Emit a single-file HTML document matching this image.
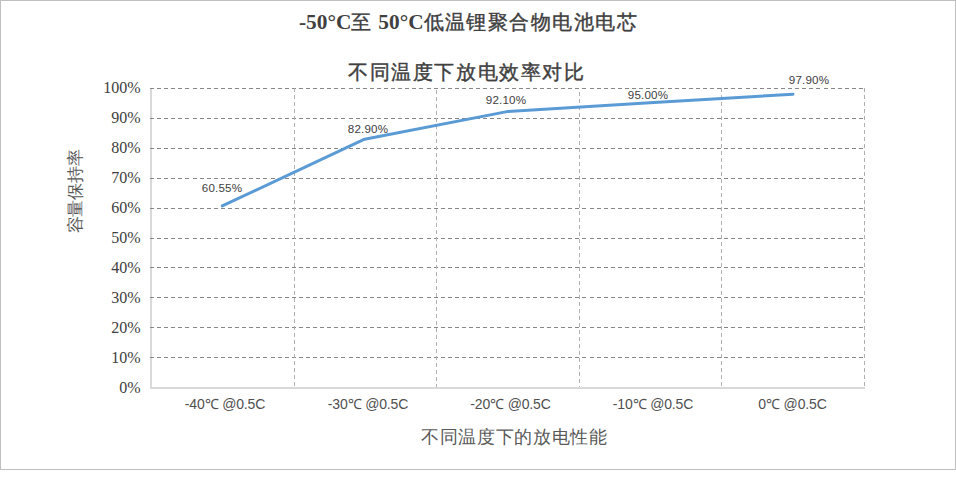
<!DOCTYPE html>
<html><head><meta charset="utf-8">
<style>
html,body{margin:0;padding:0;background:#fff;width:956px;height:479px;overflow:hidden}
.box{position:absolute;left:0;top:0;width:954px;height:468px;border:1px solid #bfbfbf;background:#fff}
.t{position:absolute;white-space:nowrap;line-height:1}
.title{font-family:"Liberation Serif",serif;font-weight:bold;font-size:21.33px;color:#404040}
.ylab{font-family:"Liberation Serif",serif;font-size:16px;color:#404040;text-align:right;width:60px}
.xlab{font-family:"Liberation Sans",sans-serif;font-size:14px;letter-spacing:-0.15px;color:#505050;text-align:center;width:140px}
.dlab{font-family:"Liberation Sans",sans-serif;font-size:11.6px;letter-spacing:0.2px;color:#404040;text-align:center;width:80px}
.axt{font-family:"Liberation Sans",sans-serif;color:#595959}
svg{position:absolute;left:0;top:0}
.cj{font-weight:normal;font-size:20px;letter-spacing:1.6px;-webkit-text-stroke:0.4px #404040}
</style></head><body>
<div class="box"></div>
<svg width="956" height="479" viewBox="0 0 956 479">
  <g fill="#d9d9d9">
    <rect x="150" y="88" width="2" height="301"/>
    <rect x="150" y="387" width="715" height="2"/>
  </g>
  <g stroke="#868686" stroke-width="1" stroke-dasharray="4 3.09" shape-rendering="crispEdges">
    <line x1="150" y1="88.5" x2="864" y2="88.5"/>
    <line x1="150" y1="118.5" x2="864" y2="118.5"/>
    <line x1="150" y1="148.5" x2="864" y2="148.5"/>
    <line x1="150" y1="178.5" x2="864" y2="178.5"/>
    <line x1="150" y1="208.5" x2="864" y2="208.5"/>
    <line x1="150" y1="238.5" x2="864" y2="238.5"/>
    <line x1="150" y1="267.5" x2="864" y2="267.5"/>
    <line x1="150" y1="297.5" x2="864" y2="297.5"/>
    <line x1="150" y1="327.5" x2="864" y2="327.5"/>
    <line x1="150" y1="357.5" x2="864" y2="357.5"/>
  </g>
  <g stroke="#b0b0b0" stroke-width="1" stroke-dasharray="4 3" shape-rendering="crispEdges">
    <line x1="294.5" y1="88" x2="294.5" y2="387"/>
    <line x1="436.5" y1="90" x2="436.5" y2="387"/>
    <line x1="579.5" y1="92" x2="579.5" y2="387"/>
    <line x1="721.5" y1="88" x2="721.5" y2="387"/>
    <line x1="864.5" y1="88" x2="864.5" y2="387"/>
  </g>
  <polyline fill="none" stroke="#5b9bd5" stroke-width="3" stroke-linejoin="round" stroke-linecap="round"
    points="222.3,205.9 364.6,139.2 507,111.6 649.8,102.8 793,94.2"/>
</svg>

<div class="t title" style="left:299px;top:12px">-50°C<span class="cj">至</span> 50°C<span class="cj" style="letter-spacing:1.45px">低温锂聚合物电池电芯</span></div>
<div class="t title cj" style="left:348px;top:62px">不同温度下放电效率对比</div>

<div class="t ylab" style="left:80.5px;top:80px">100%</div>
<div class="t ylab" style="left:80.5px;top:110px">90%</div>
<div class="t ylab" style="left:80.5px;top:140px">80%</div>
<div class="t ylab" style="left:80.5px;top:170px">70%</div>
<div class="t ylab" style="left:80.5px;top:200px">60%</div>
<div class="t ylab" style="left:80.5px;top:230px">50%</div>
<div class="t ylab" style="left:80.5px;top:260px">40%</div>
<div class="t ylab" style="left:80.5px;top:290px">30%</div>
<div class="t ylab" style="left:80.5px;top:320px">20%</div>
<div class="t ylab" style="left:80.5px;top:350px">10%</div>
<div class="t ylab" style="left:80.5px;top:380px">0%</div>

<div class="t xlab" style="left:155px;top:397px">-40℃ @0.5C</div>
<div class="t xlab" style="left:298px;top:397px">-30℃ @0.5C</div>
<div class="t xlab" style="left:440.5px;top:397px">-20℃ @0.5C</div>
<div class="t xlab" style="left:583px;top:397px">-10℃ @0.5C</div>
<div class="t xlab" style="left:722.5px;top:397px">0℃ @0.5C</div>

<div class="t dlab" style="left:182px;top:182.0px">60.55%</div>
<div class="t dlab" style="left:328px;top:123.0px">82.90%</div>
<div class="t dlab" style="left:466px;top:94.0px">92.10%</div>
<div class="t dlab" style="left:608px;top:89.0px">95.00%</div>
<div class="t dlab" style="left:769px;top:74.0px">97.90%</div>

<div class="t axt" style="left:421px;top:428px;font-size:18px;letter-spacing:0.66px">不同温度下的放电性能</div>
<div class="t axt" style="left:35px;top:185px;font-size:16.5px;letter-spacing:-0.3px;transform:rotate(-90deg);transform-origin:50% 50%;width:80px;text-align:center">容量保持率</div>
</body></html>
